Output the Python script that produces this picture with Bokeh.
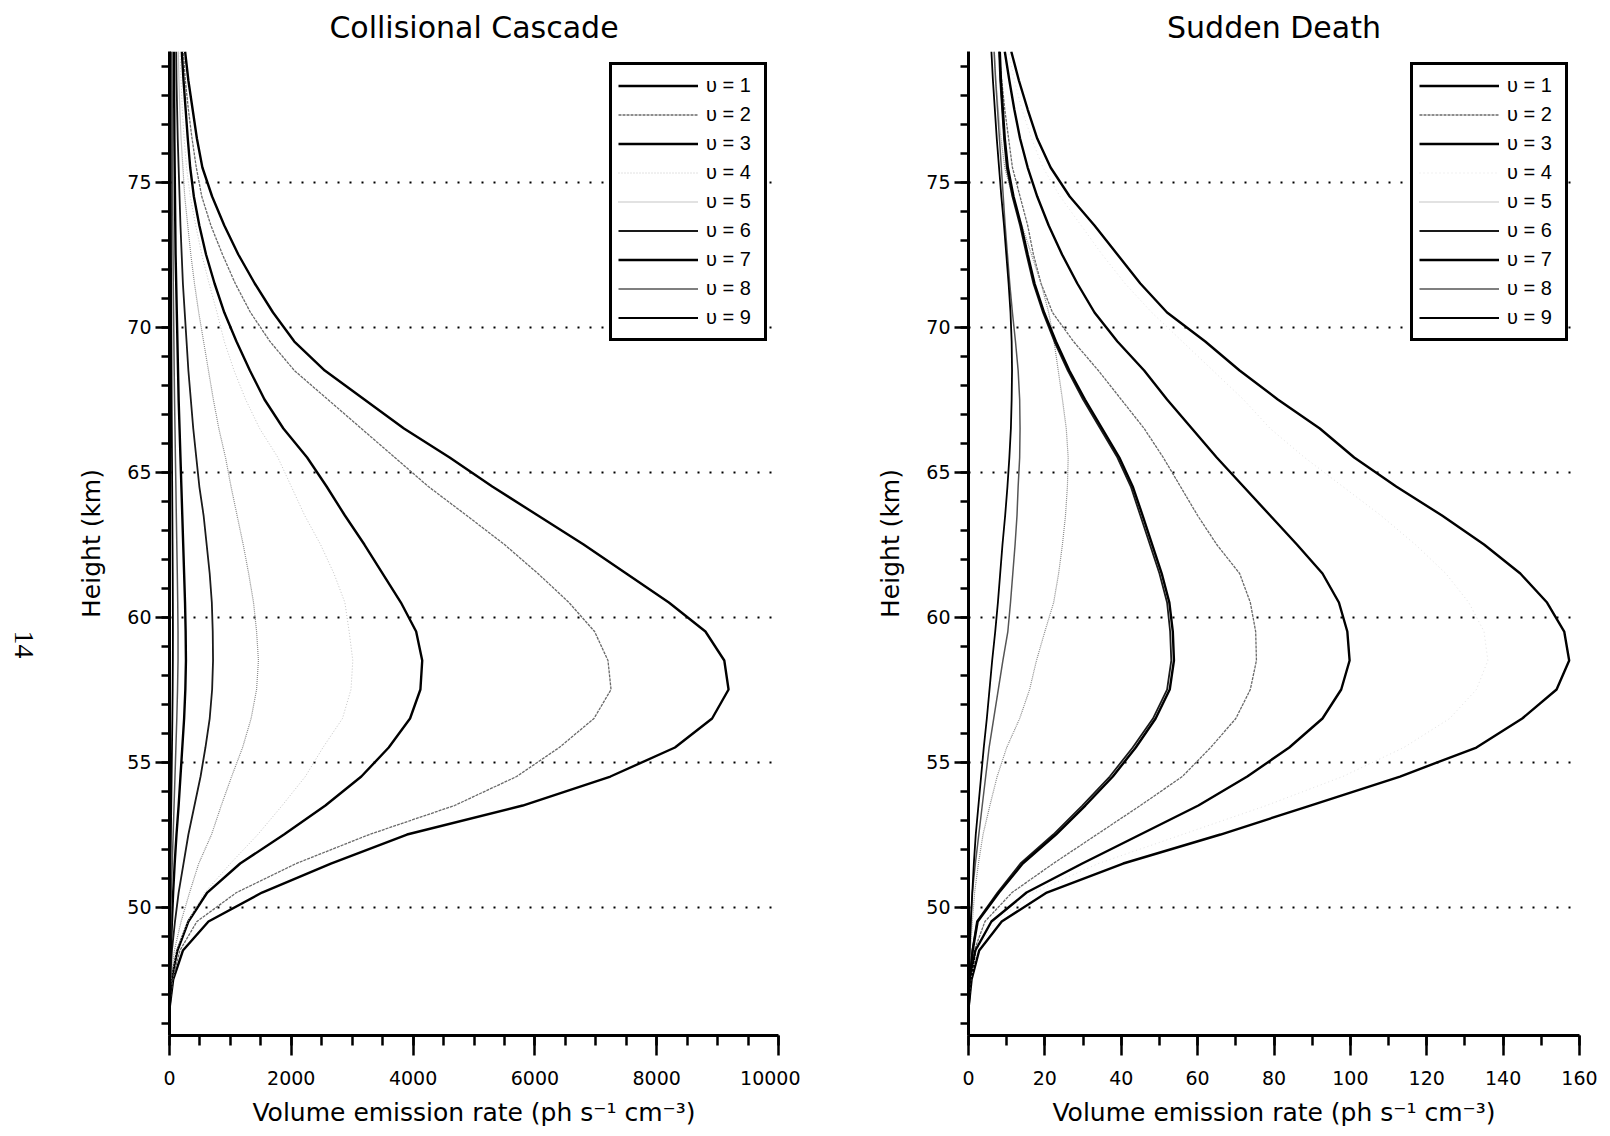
from math import pi
from bokeh.plotting import figure
from bokeh.layouts import row
from bokeh.models import SingleIntervalTicker, Label, BasicTickFormatter, Range1d
from bokeh.embed import file_html
from bokeh.resources import INLINE

heights = [46.5, 47.5, 48.5, 49.5, 50.5, 51.5, 52.5, 53.5, 54.5, 55.5, 56.5, 57.5,
           58.5, 59.5, 60.5, 61.5, 62.5, 63.5, 64.5, 65.5, 66.5, 67.5, 68.5, 69.5,
           70.5, 71.5, 72.5, 73.5, 74.5, 75.5, 76.5, 77.5, 78.5, 79.5]

labels = ["υ = 1", "υ = 2", "υ = 3", "υ = 4", "υ = 5", "υ = 6", "υ = 7", "υ = 8", "υ = 9"]

# Collisional Cascade (ph s-1 cm-3)
cc_v1 = [0, 60, 220, 640, 1520, 2650, 3900, 5800, 7240, 8300, 8910, 9180, 9110, 8800, 8200, 7500, 6800,
         6050, 5300, 4600, 3850, 3200, 2550, 2050, 1700, 1400, 1130, 900, 700, 540, 450, 380, 310, 256]
cc_v2 = [0, 50, 170, 450, 1100, 2080, 3280, 4680, 5700, 6400, 6970, 7250, 7200, 6980, 6560, 6050, 5500,
         4880, 4250, 3700, 3150, 2600, 2050, 1650, 1330, 1080, 870, 680, 530, 440, 370, 310, 260, 228]
cc_v3 = [0, 30, 130, 310, 620, 1160, 1880, 2560, 3150, 3600, 3950, 4120, 4150, 4050, 3800, 3500, 3200,
         2880, 2580, 2260, 1870, 1560, 1320, 1100, 900, 740, 600, 490, 400, 340, 300, 265, 230, 202]
cc_v4 = [0, 25, 110, 300, 580, 1000, 1450, 1850, 2230, 2520, 2840, 2980, 3010, 2950, 2880, 2700, 2480,
         2220, 2000, 1780, 1480, 1250, 1060, 900, 780, 650, 530, 430, 340, 280, 240, 210, 190, 175]
cc_v5 = [0, 20, 80, 190, 330, 480, 690, 850, 1020, 1200, 1340, 1430, 1460, 1430, 1380, 1300, 1210,
         1110, 1010, 920, 810, 720, 640, 560, 480, 410, 350, 300, 250, 220, 190, 170, 155, 145]
cc_v6 = [0, 10, 40, 90, 150, 230, 310, 410, 510, 590, 660, 700, 715, 710, 695, 660, 610,
         560, 490, 440, 390, 350, 310, 280, 250, 220, 200, 180, 165, 150, 135, 125, 115, 110]
cc_v7 = [0, 5, 20, 40, 60, 85, 115, 150, 180, 210, 240, 260, 270, 265, 255, 240, 225,
         210, 195, 180, 165, 150, 140, 130, 120, 110, 100, 95, 90, 85, 80, 78, 75, 72]
cc_v8 = [0, 3, 10, 20, 30, 45, 60, 75, 90, 105, 120, 132, 140, 140, 135, 128, 120,
         112, 105, 97, 90, 83, 77, 72, 67, 62, 58, 55, 52, 50, 48, 46, 44, 42]
cc_v9 = [0, 1, 4, 8, 12, 17, 23, 29, 35, 41, 47, 52, 55, 56, 55, 53, 50,
         47, 44, 41, 38, 35, 33, 31, 29, 27, 25, 24, 23, 22, 21, 20, 19, 18]

# Sudden Death (ph s-1 cm-3)
sd_v1 = [0, 0.8, 2.8, 8.7, 20.5, 40.5, 66, 89.5, 113, 133, 145, 154, 157.3, 156, 151.5, 144.5, 135,
         124, 112, 101, 92, 81, 71, 62, 52, 45, 39, 33, 26.5, 21.5, 18, 15.5, 13.2, 11.2]
sd_v2 = [0, 0.5, 1.5, 4.3, 11.4, 22.2, 33.6, 45, 56, 63.4, 70, 73.8, 75.4, 75.2, 73.8, 71, 65,
         60, 55.5, 51, 46, 40, 34, 27.5, 22, 19, 17, 15.5, 13.5, 11.5, 10.5, 9.5, 8.7, 8]
sd_v3 = [0, 0.5, 1.8, 6, 15.2, 29.8, 45, 60.2, 73, 84, 92.7, 97.6, 99.8, 99.2, 97, 92.7, 86,
         79, 72, 65, 58.5, 52, 46, 39, 33, 28.5, 24.5, 21, 18, 15.5, 13.5, 12, 10.7, 9.5]
sd_v4 = [0, 0.6, 2.2, 7, 17, 34, 56, 78, 98, 114, 126, 133, 136, 135, 131, 125, 117,
         108, 98, 88, 79, 72, 64, 56, 48, 41, 35, 29.5, 24, 19.5, 16.5, 14, 12, 10.5]
sd_v5 = [0, 0.2, 0.5, 1.0, 1.6, 2.6, 3.8, 5.6, 7.5, 10, 13.4, 16, 17.8, 20, 22.3, 23.6, 24.6,
         25.4, 25.9, 26.1, 25.6, 24.6, 23.5, 22.4, 21, 19, 16.5, 14, 11.5, 9.5, 8.5, 7.8, 7.2, 6.8]
sd_v6 = [0, 0.3, 1.0, 2.2, 7.6, 13.6, 22.2, 29.8, 37, 43, 48.3, 52, 53.1, 52.8, 52, 50, 47.5,
         45, 42.5, 39, 34.5, 30, 26, 22.5, 19.5, 17, 15.2, 13.5, 11.5, 10, 9.3, 8.8, 8.3, 8]
sd_v7 = [0, 0.3, 1.1, 2.4, 8.0, 14.2, 22.9, 30.6, 37.8, 43.8, 49.0, 52.7, 53.8, 53.5, 52.6, 50.6, 48.1,
         45.6, 43.0, 39.5, 35.0, 30.5, 26.4, 22.9, 19.8, 17.3, 15.5, 13.8, 11.8, 10.3, 9.5, 9.0, 8.5, 8.2]
sd_v8 = [0, 0.1, 0.3, 0.6, 1.0, 1.8, 2.7, 3.6, 4.5, 5.4, 6.6, 7.8, 9.0, 10.3, 11.0, 11.6, 12.2,
         12.7, 13.0, 13.4, 13.5, 13.4, 13.0, 12.3, 11.5, 10.8, 10.2, 9.6, 9.1, 8.6, 8.1, 7.6, 7.1, 6.7]
sd_v9 = [0, 0.1, 0.3, 0.6, 1.0, 1.4, 1.9, 2.6, 3.3, 4.0, 4.8, 5.5, 6.2, 7.0, 7.7, 8.3, 8.9,
         9.6, 10.2, 10.7, 11.1, 11.3, 11.4, 11.3, 11.0, 10.5, 9.9, 9.3, 8.6, 8.0, 7.4, 6.9, 6.4, 6.0]

cc_series = [cc_v1, cc_v2, cc_v3, cc_v4, cc_v5, cc_v6, cc_v7, cc_v8, cc_v9]
sd_series = [sd_v1, sd_v2, sd_v3, sd_v4, sd_v5, sd_v6, sd_v7, sd_v8, sd_v9]

cc_styles = [
    ("black", 2.4, "solid"),
    ("#6a6a6a", 1.3, "3 1"),
    ("black", 2.4, "solid"),
    ("#c4c4c4", 1.0, "1 2"),
    ("#8a8a8a", 1.2, "1 1"),
    ("#1a1a1a", 1.8, "solid"),
    ("black", 2.4, "solid"),
    ("#555555", 1.5, "solid"),
    ("black", 1.8, "solid"),
]
sd_styles = list(cc_styles)
sd_styles[3] = ("#e2e2e2", 1.0, "1 3")

FONT = "DejaVu Sans"


def make_fig(title, series, styles, x_end, x_major, x_minor_n, fig_w, border_l, border_r):
    p = figure(width=fig_w, height=1136, x_range=Range1d(0, x_end), y_range=Range1d(45.57, 79.5),
               output_backend="svg", toolbar_location=None, title=title,
               min_border_left=border_l, min_border_right=border_r,
               min_border_top=51, min_border_bottom=101)
    p.outline_line_color = None
    p.background_fill_color = "white"
    p.border_fill_color = "white"
    p.title.align = "center"
    p.title.text_font = FONT
    p.title.text_font_size = "30px"
    p.title.text_font_style = "normal"
    p.title.text_color = "black"
    p.title.standoff = 13

    for s, lab, (col, w, dash) in zip(series, labels, styles):
        p.line(s, heights, line_color=col, line_width=w, line_dash=dash, legend_label=lab)

    xa = p.xaxis[0]
    xa.ticker = SingleIntervalTicker(interval=x_major, num_minor_ticks=x_minor_n)
    xa.formatter = BasicTickFormatter(use_scientific=False)
    xa.axis_label = "Volume emission rate (ph s⁻¹ cm⁻³)"
    ya = p.yaxis[0]
    ya.ticker = SingleIntervalTicker(interval=5, num_minor_ticks=5)
    ya.axis_label = "Height (km)"
    for ax in (xa, ya):
        ax.axis_line_width = 3
        ax.axis_line_color = "black"
        ax.major_tick_line_width = 2.5
        ax.minor_tick_line_width = 2.5
        ax.major_tick_in = 0
        ax.minor_tick_in = 0
        ax.major_label_text_font = FONT
        ax.major_label_text_font_size = "19px"
        ax.major_label_text_color = "black"
        ax.axis_label_text_font = FONT
        ax.axis_label_text_font_size = "25px"
        ax.axis_label_text_font_style = "normal"
        ax.axis_label_text_color = "black"
    xa.major_tick_out = 20
    xa.minor_tick_out = 10
    xa.major_label_standoff = 15
    xa.axis_label_standoff = 10
    ya.major_tick_out = 14
    ya.minor_tick_out = 8
    ya.major_label_standoff = 4
    ya.axis_label_standoff = 18

    p.xgrid.grid_line_color = None
    p.ygrid.grid_line_color = "black"
    p.ygrid.grid_line_width = 2.2
    p.ygrid.grid_line_dash = "2 10"

    lg = p.legend[0]
    lg.location = "top_right"
    lg.margin = 11
    lg.border_line_color = "black"
    lg.border_line_alpha = 1
    lg.border_line_width = 3
    lg.background_fill_color = "white"
    lg.background_fill_alpha = 1
    lg.glyph_width = 80
    lg.glyph_height = 29
    lg.label_height = 29
    lg.label_width = 52
    lg.spacing = 0
    lg.padding = 6
    lg.label_standoff = 8
    lg.label_text_font = "Liberation Sans"
    lg.label_text_font_size = "20px"
    lg.label_text_color = "black"
    return p


# narrow strip on the left holding the rotated page number
pg = figure(width=40, height=1136, output_backend="svg", toolbar_location=None,
            x_axis_location=None, y_axis_location=None, min_border=0,
            x_range=Range1d(0, 1), y_range=Range1d(0, 1))
pg.outline_line_color = None
pg.grid.visible = False
pg.add_layout(Label(x=23, y=391, x_units="screen", y_units="screen", text="14", angle=-pi / 2,
                    text_font="Liberation Serif", text_font_size="28px", text_align="center",
                    text_baseline="middle", text_color="black"))

p1 = make_fig("Collisional Cascade", cc_series, cc_styles, 10000, 2000, 4, 760, 129, 22)
p2 = make_fig("Sudden Death", sd_series, sd_styles, 160, 20, 2, 810, 168, 31)

layout = row(pg, p1, p2, spacing=0)
open("out.html", "w").write(file_html(layout, INLINE))
